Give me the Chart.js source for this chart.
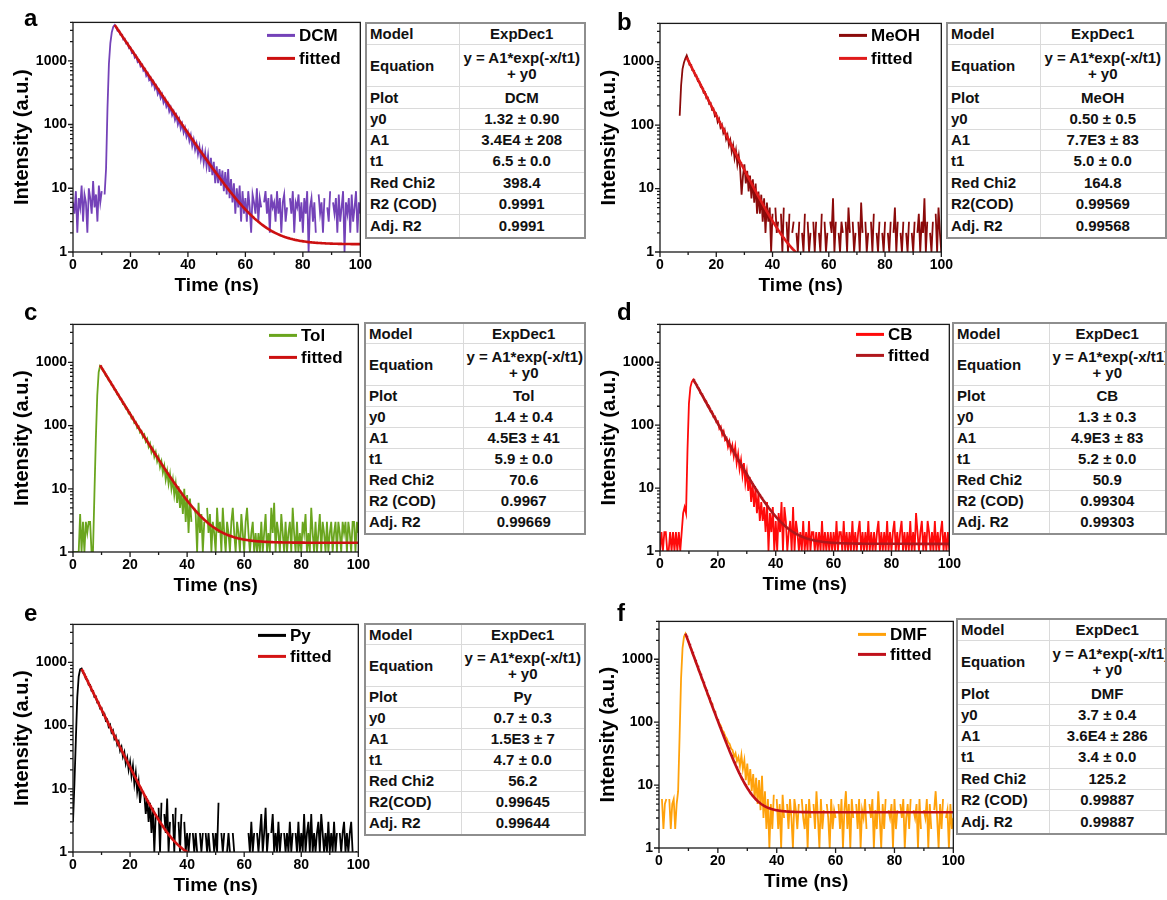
<!DOCTYPE html>
<html>
<head>
<meta charset="utf-8">
<title>Fluorescence decay fits</title>
<script src="https://cdn.jsdelivr.net/npm/chart.js@4.4.1/dist/chart.umd.min.js"></script>
<style>
  html, body { margin: 0; padding: 0; background: #fff; }
  #figure { position: relative; width: 1167px; height: 900px; overflow: hidden; }
  #figure canvas { position: absolute; }
  .tag { position: absolute; font: bold 24px "Liberation Sans", Arial, sans-serif; line-height: 24px; color: #000; }
  table.fit { position: absolute; border-collapse: collapse; table-layout: fixed; background: #fff;
              border: 2px solid #8e8e8e; font: bold 15px "Liberation Sans", Arial, sans-serif; color: #111; }
  table.fit td { border: 1px solid #dadada; padding: 0 3px; vertical-align: middle; line-height: 16px; white-space: nowrap; overflow: hidden; }
  table.fit td.v { text-align: center; }
</style>
</head>
<body>
<div id="figure"></div>
<script>
// TCSPC channels, 0.5 ns apart
const timeStep = 0.5;
const sampleNames = ['DCM', 'MeOH', 'Tol', 'CB', 'Py', 'DMF'];
const firstChannelTime = [0, 7, 0, 0, 0, 0];

// photon counts per channel (0 = empty channel)
const dcmCounts = [
  6, 4, 9, 2, 7, 5, 11, 3, 8, 6,
  2, 10, 7, 4, 13, 5, 8, 3, 11, 6,
  9, 0, 8, 20, 180, 900, 1900, 2800, 3400, 3650,
  3400, 2950, 2980, 2550, 2560, 2150, 2200, 1860, 1900, 1580,
  1620, 1330, 1390, 1120, 1190, 960, 1010, 820, 870, 700,
  740, 580, 630, 500, 540, 420, 470, 360, 400, 300,
  340, 260, 295, 220, 250, 190, 215, 160, 185, 140,
  160, 118, 138, 100, 120, 86, 102, 74, 88, 64,
  76, 55, 68, 46, 58, 40, 50, 34, 45, 29,
  40, 25, 36, 22, 33, 18, 30, 16, 26, 12,
  22, 12, 20, 11, 19, 9, 18, 8, 20, 7,
  14, 6, 12, 4, 10, 5, 11, 3, 9, 4,
  7, 3, 9, 5, 2, 8, 6, 4, 10, 3,
  7, 5, 0, 6, 9, 4, 7, 2, 8, 5,
  6, 3, 9, 4, 7, 2, 6, 8, 3, 5,
  0, 7, 4, 9, 2, 6, 5, 8, 3, 6,
  2, 7, 4, 9, 1, 5, 7, 3, 6, 2,
  0, 8, 4, 6, 2, 7, 0, 5, 3, 9,
  0, 6, 4, 7, 2, 8, 3, 5, 9, 1,
  6, 4, 7, 2, 8, 3, 5, 9, 2, 6,
  4
];
const meohCounts = [
  140, 420, 760, 960, 1120, 1250,
  1080, 890, 890, 730, 720, 600, 590, 490, 485, 400,
  400, 325, 330, 265, 270, 215, 220, 175, 180, 140,
  150, 112, 125, 92, 102, 75, 85, 60, 70, 48,
  58, 38, 48, 30, 40, 24, 33, 20, 8, 16,
  24, 12, 19, 9, 16, 7, 14, 6, 12, 4,
  9, 4, 8, 3, 7, 2, 6, 3, 5, 1,
  4, 0, 5, 2, 3, 0, 4, 1, 5, 0,
  3, 1, 4, 0, 2, 3, 0, 2, 1, 3,
  0, 2, 1, 4, 0, 3, 1, 2, 0, 3,
  1, 3, 0, 2, 1, 4, 0, 3, 1, 2,
  0, 3, 2, 7, 1, 3, 0, 2, 1, 3,
  2, 0, 3, 1, 5, 2, 0, 3, 1, 2,
  0, 3, 1, 6, 2, 0, 3, 1, 2, 0,
  3, 1, 4, 0, 2, 1, 3, 0, 2, 1,
  3, 0, 2, 1, 3, 0, 2, 5, 1, 3,
  0, 2, 1, 3, 0, 2, 1, 3, 0, 2,
  1, 3, 0, 2, 4, 1, 3, 2, 7, 1,
  3, 0, 2, 1, 3, 0, 4, 1, 5, 2,
  1
];
const tolCounts = [
  1, 1, 1, 1, 1, 4, 1, 3, 1, 3,
  2, 3, 3, 1, 1, 8, 60, 300, 700, 880,
  830, 740, 710, 615, 600, 520, 505, 440, 430, 370,
  365, 310, 305, 262, 262, 220, 222, 186, 188, 156,
  160, 130, 136, 110, 114, 92, 97, 78, 82, 66,
  72, 56, 62, 46, 52, 38, 44, 32, 38, 27,
  32, 22, 27, 18, 23, 14, 19, 12, 17, 10,
  14, 8, 12, 6, 11, 5, 9, 4, 10, 3,
  8, 2, 7, 3, 0, 5, 4, 1, 6, 2,
  4, 1, 3, 0, 5, 2, 4, 1, 3, 2,
  1, 5, 2, 3, 1, 5, 2, 1, 3, 2,
  1, 3, 5, 2, 1, 3, 2, 1, 4, 2,
  1, 3, 5, 2, 1, 2, 3, 1, 2, 1,
  2, 1, 3, 1, 2, 4, 1, 2, 1, 5,
  2, 6, 1, 3, 2, 1, 4, 2, 1, 3,
  1, 2, 3, 1, 5, 2, 1, 3, 1, 2,
  1, 3, 2, 4, 1, 2, 1, 5, 2, 1,
  3, 1, 2, 4, 1, 3, 2, 1, 3, 1,
  2, 3, 1, 2, 3, 1, 3, 2, 1, 3,
  2, 3, 1, 3, 2, 1, 3, 3, 1, 3,
  2
];
const cbCounts = [
  1, 2, 1, 2, 2, 1, 1, 2, 1, 2,
  1, 2, 1, 2, 1, 2, 4, 5, 4, 40,
  220, 400, 490, 530, 470, 455, 395, 385, 320, 310,
  285, 240, 240, 198, 200, 165, 165, 135, 138, 112,
  115, 88, 95, 70, 80, 58, 62, 45, 55, 38,
  48, 32, 45, 25, 35, 20, 28, 16, 25, 12,
  18, 9, 15, 6, 12, 5, 10, 4, 8, 3,
  6, 3, 5, 2, 6, 1, 4, 2, 5, 1,
  3, 1, 4, 2, 6, 1, 5, 3, 1, 2,
  3, 1, 5, 1, 3, 2, 1, 2, 1, 3,
  1, 2, 1, 3, 1, 2, 2, 1, 2, 1,
  2, 1, 3, 1, 2, 1, 2, 1, 2, 1,
  2, 1, 3, 1, 2, 2, 1, 3, 1, 2,
  1, 2, 1, 3, 1, 2, 1, 2, 3, 1,
  2, 1, 2, 1, 3, 1, 2, 1, 2, 1,
  2, 3, 1, 2, 1, 2, 1, 3, 1, 2,
  1, 2, 3, 1, 2, 1, 2, 3, 1, 2,
  1, 2, 1, 3, 1, 2, 1, 4, 2, 1,
  2, 3, 1, 2, 1, 3, 2, 1, 2, 1,
  3, 1, 2, 1, 2, 3, 1, 2, 1, 2,
  1
];
const pyCounts = [
  3, 12, 60, 280, 600, 780, 800, 690, 660, 550,
  540, 440, 440, 355, 355, 285, 290, 232, 232, 186,
  190, 150, 155, 120, 125, 96, 103, 78, 84, 62,
  68, 50, 56, 40, 46, 32, 38, 25, 31, 20,
  27, 16, 23, 12, 18, 9, 13, 6, 10, 0,
  8, 4, 7, 3, 6, 2, 5, 1, 4, 0,
  5, 1, 6, 0, 4, 2, 7, 1, 3, 0,
  4, 1, 5, 0, 3, 1, 4, 0, 3, 1,
  2, 1, 2, 0, 2, 1, 2, 1, 0, 2,
  1, 2, 0, 2, 1, 2, 1, 0, 2, 1,
  2, 1, 6, 0, 2, 1, 2, 0, 1, 2,
  1, 0, 2, 1, 0, 1, 0, 1, 0, 1,
  0, 1, 0, 2, 1, 3, 1, 2, 0, 2,
  1, 2, 4, 1, 2, 5, 1, 2, 0, 2,
  4, 1, 2, 1, 3, 1, 2, 0, 2, 1,
  2, 1, 3, 1, 2, 0, 2, 1, 3, 1,
  2, 1, 4, 1, 2, 3, 1, 4, 1, 2,
  1, 2, 3, 1, 4, 2, 1, 2, 1, 3,
  1, 2, 1, 3, 1, 2, 0, 2, 1, 2,
  3, 1, 2, 1, 2, 3, 1, 0, 1, 1,
  0
];
const dmfCounts = [
  3, 0, 6, 2, 5, 6, 0, 6, 2, 5,
  6, 2, 5, 8, 60, 500, 1500, 2300, 2550, 2150,
  1960, 1580, 1470, 1170, 1100, 870, 820, 650, 620, 480,
  460, 360, 345, 270, 262, 205, 200, 158, 150, 118,
  110, 95, 88, 74, 70, 60, 55, 48, 45, 38,
  36, 28, 32, 24, 28, 20, 30, 18, 25, 12,
  22, 10, 18, 8, 15, 6, 13, 5, 12, 4,
  14, 3, 8, 2, 6, 1, 5, 2, 7, 0,
  6, 2, 5, 1, 7, 3, 0, 5, 2, 6,
  3, 1, 6, 4, 2, 5, 0, 6, 3, 2,
  5, 1, 6, 3, 0, 5, 2, 8, 3, 1,
  6, 2, 4, 0, 5, 3, 1, 6, 2, 4,
  3, 0, 5, 2, 6, 1, 4, 8, 2, 5,
  1, 6, 3, 0, 5, 2, 6, 1, 4, 3,
  6, 2, 0, 5, 3, 6, 1, 4, 2, 8,
  3, 1, 5, 2, 6, 0, 4, 3, 5, 1,
  6, 2, 4, 0, 5, 3, 6, 1, 3, 5,
  2, 6, 0, 4, 3, 5, 1, 6, 2, 0,
  4, 3, 6, 1, 5, 2, 0, 4, 8, 3,
  1, 5, 2, 6, 0, 3, 4, 1, 5, 2,
  3
];
const sampleCounts = [dcmCounts, meohCounts, tolCounts, cbCounts, pyCounts, dmfCounts];

// ExpDec1 fit results: y = A1*exp(-x/t1) + y0, drawn from the peak channel on
const fitStartTime = [14.5, 9.5, 9.5, 11.5, 3, 9];
const fitY0 = [1.32, 0.50, 1.4, 1.3, 0.7, 3.7];
const fitA1 = [3.4e4, 7.7e3, 4.5e3, 4.9e3, 1.5e3, 3.6e4];
const fitT1 = [6.5, 5.0, 5.9, 5.2, 4.7, 3.4];

// fit report tables
const tableY0 = ['1.32 ± 0.90', '0.50 ± 0.5', '1.4 ± 0.4', '1.3 ± 0.3', '0.7 ± 0.3', '3.7 ± 0.4'];
const tableA1 = ['3.4E4 ± 208', '7.7E3 ± 83', '4.5E3 ± 41', '4.9E3 ± 83', '1.5E3 ± 7', '3.6E4 ± 286'];
const tableT1 = ['6.5 ± 0.0', '5.0 ± 0.0', '5.9 ± 0.0', '5.2 ± 0.0', '4.7 ± 0.0', '3.4 ± 0.0'];
const tableRedChi2 = ['398.4', '164.8', '70.6', '50.9', '56.2', '125.2'];
const tableR2Label = ['R2 (COD)', 'R2(COD)', 'R2 (COD)', 'R2 (COD)', 'R2(COD)', 'R2 (COD)'];
const tableR2 = ['0.9991', '0.99569', '0.9967', '0.99304', '0.99645', '0.99887'];
const tableAdjR2 = ['0.9991', '0.99568', '0.99669', '0.99303', '0.99644', '0.99887'];

// axis ticks
const xMajorTicks = [0, 20, 40, 60, 80, 100];
const xMinorTicks = [10, 30, 50, 70, 90];
const yMajorTicks = [1, 10, 100, 1000];
const yMax = 4000;
const yMinorTicks = [];
yMajorTicks.forEach(d => [2, 3, 4, 5, 6, 7, 8, 9].forEach(m => {
  if (d * m <= yMax) yMinorTicks.push(d * m);
}));

// panel geometry: plot = [left, top, right, bottom], table = [left, top, width, height]
const panels = [
  { tag: 'a', tagPos: [24, 6],    plot: [73, 20, 361, 252],   table: [365, 22, 221, 215], keyWidth: 93,
    dataColor: '#7442b8', fitColor: '#cc1010', legend: [194, 13, 23] },
  { tag: 'b', tagPos: [617, 10],  plot: [660, 21, 942, 252],  table: [946, 22, 221, 215], keyWidth: 93,
    dataColor: '#8b0a0a', fitColor: '#e01b1b', legend: [179, 12, 23] },
  { tag: 'c', tagPos: [24, 300],  plot: [73, 322, 359, 552],  table: [364, 322, 222, 211], keyWidth: 98,
    dataColor: '#6aa51e', fitColor: '#cc1010', legend: [196, 11, 22] },
  { tag: 'd', tagPos: [617, 300], plot: [660, 322, 950, 551], table: [952, 322, 215, 211], keyWidth: 96,
    dataColor: '#ff0a0a', fitColor: '#b0171c', legend: [196, 10, 21] },
  { tag: 'e', tagPos: [24, 601],  plot: [73, 622, 359, 852],  table: [364, 623, 222, 211], keyWidth: 96,
    dataColor: '#000000', fitColor: '#d41414', legend: [185, 11, 21] },
  { tag: 'f', tagPos: [617, 601], plot: [659, 619, 954, 848], table: [956, 618, 211, 215], keyWidth: 92,
    dataColor: '#ffa10a', fitColor: '#c0101a', legend: [199, 13, 20] }
];

const FONT = '"Liberation Sans", Arial, sans-serif';
const Y_AXIS_W = 70;
const X_AXIS_H = 50;
const PAD_TOP = 12;
const PAD_RIGHT = 16;

const figure = document.getElementById('figure');

function channelPoints(start, counts) {
  return counts.map((c, i) => ({ x: start + i * timeStep, y: c }));
}

function fitPoints(i) {
  const pts = [];
  for (let t = fitStartTime[i]; t <= 100.001; t += 0.25) {
    pts.push({ x: t, y: fitA1[i] * Math.exp(-t / fitT1[i]) + fitY0[i] });
  }
  return pts;
}

// frame, outward tick marks and the in-plot legend
function framePlugin(p) {
  return {
    id: 'frameAndLegend',
    afterDraw(chart) {
      const { ctx, chartArea: a } = chart;
      const xs = chart.scales.x, ys = chart.scales.y;
      ctx.save();
      ctx.strokeStyle = '#1a1a1a';
      ctx.lineWidth = 1.3;
      ctx.strokeRect(a.left, a.top, a.right - a.left, a.bottom - a.top);
      ctx.beginPath();
      yMajorTicks.forEach(v => { const py = ys.getPixelForValue(v); ctx.moveTo(a.left - 5, py); ctx.lineTo(a.left, py); });
      yMinorTicks.forEach(v => { const py = ys.getPixelForValue(v); ctx.moveTo(a.left - 3, py); ctx.lineTo(a.left, py); });
      xMajorTicks.forEach(v => { const px = xs.getPixelForValue(v); ctx.moveTo(px, a.bottom); ctx.lineTo(px, a.bottom + 5); });
      xMinorTicks.forEach(v => { const px = xs.getPixelForValue(v); ctx.moveTo(px, a.bottom); ctx.lineTo(px, a.bottom + 3); });
      ctx.stroke();

      const [lx, ly, gap] = p.legend;
      ctx.font = 'bold 17px ' + FONT;
      ctx.textBaseline = 'middle';
      chart.data.datasets.forEach((ds, k) => {
        const x0 = a.left + lx;
        const y0 = a.top + ly + k * gap;
        ctx.strokeStyle = ds.borderColor;
        ctx.lineWidth = 3;
        ctx.beginPath();
        ctx.moveTo(x0, y0);
        ctx.lineTo(x0 + 28, y0);
        ctx.stroke();
        ctx.fillStyle = '#000';
        ctx.fillText(ds.label, x0 + 32, y0 + 1);
      });
      ctx.restore();
    }
  };
}

function buildTable(p, i) {
  const [left, top, width, height] = p.table;
  const table = document.createElement('table');
  table.className = 'fit';
  table.style.left = left + 'px';
  table.style.top = top + 'px';
  table.style.width = width + 'px';
  table.style.height = height + 'px';

  const colgroup = document.createElement('colgroup');
  const c1 = document.createElement('col');
  c1.style.width = p.keyWidth + 'px';
  colgroup.appendChild(c1);
  colgroup.appendChild(document.createElement('col'));
  table.appendChild(colgroup);

  const rows = [
    ['Model', ['ExpDec1']],
    ['Equation', ['y = A1*exp(-x/t1)', '+ y0']],
    ['Plot', [sampleNames[i]]],
    ['y0', [tableY0[i]]],
    ['A1', [tableA1[i]]],
    ['t1', [tableT1[i]]],
    ['Red Chi2', [tableRedChi2[i]]],
    [tableR2Label[i], [tableR2[i]]],
    ['Adj. R2', [tableAdjR2[i]]]
  ];
  const unit = (height - 2) / 10;
  rows.forEach((r, k) => {
    const tr = document.createElement('tr');
    let h = unit;
    if (k === 1) h = unit * 2;
    if (k === rows.length - 1) h = unit + 2;
    tr.style.height = h + 'px';
    const td1 = document.createElement('td');
    td1.textContent = r[0];
    const td2 = document.createElement('td');
    td2.className = 'v';
    r[1].forEach((line, n) => {
      if (n > 0) td2.appendChild(document.createElement('br'));
      td2.appendChild(document.createTextNode(line));
    });
    tr.appendChild(td1);
    tr.appendChild(td2);
    table.appendChild(tr);
  });
  figure.appendChild(table);
}

panels.forEach((p, i) => {
  const [L, T, R, B] = p.plot;
  const left = L - Y_AXIS_W;
  const top = T - PAD_TOP;
  const w = R - left + PAD_RIGHT;
  const h = B - top + X_AXIS_H;

  const canvas = document.createElement('canvas');
  canvas.width = w;
  canvas.height = h;
  canvas.style.left = left + 'px';
  canvas.style.top = top + 'px';
  canvas.style.width = w + 'px';
  canvas.style.height = h + 'px';
  figure.appendChild(canvas);

  new Chart(canvas, {
    type: 'line',
    data: {
      datasets: [
        {
          label: sampleNames[i],
          data: channelPoints(firstChannelTime[i], sampleCounts[i]),
          borderColor: p.dataColor,
          borderWidth: 1.8,
          pointRadius: 0,
          tension: 0,
          order: 1
        },
        {
          label: 'fitted',
          data: fitPoints(i),
          borderColor: p.fitColor,
          borderWidth: 2.6,
          pointRadius: 0,
          tension: 0,
          order: 0
        }
      ]
    },
    options: {
      responsive: false,
      animation: false,
      devicePixelRatio: 1,
      events: [],
      layout: { padding: { top: PAD_TOP, right: PAD_RIGHT, left: 0, bottom: 0 } },
      plugins: {
        legend: { display: false },
        tooltip: { enabled: false }
      },
      scales: {
        x: {
          type: 'linear',
          min: 0,
          max: 100,
          grid: { display: false, drawTicks: false },
          border: { display: false },
          afterBuildTicks: s => { s.ticks = xMajorTicks.map(v => ({ value: v })); },
          afterFit: s => { s.height = X_AXIS_H; },
          ticks: {
            autoSkip: false,
            maxRotation: 0,
            padding: 5,
            color: '#000',
            font: { family: FONT, size: 14, weight: 'bold' },
            callback: v => String(v)
          },
          title: {
            display: true,
            text: 'Time (ns)',
            color: '#000',
            font: { family: FONT, size: 19, weight: 'bold' },
            padding: { top: 0, bottom: 5 }
          }
        },
        y: {
          type: 'logarithmic',
          min: 1,
          max: yMax,
          grid: { display: false, drawTicks: false },
          border: { display: false },
          afterBuildTicks: s => { s.ticks = yMajorTicks.map(v => ({ value: v })); },
          afterFit: s => { s.width = Y_AXIS_W; },
          ticks: {
            autoSkip: false,
            padding: 6,
            color: '#000',
            font: { family: FONT, size: 14, weight: 'bold' },
            callback: v => String(v)
          },
          title: {
            display: true,
            text: 'Intensity (a.u.)',
            color: '#000',
            font: { family: FONT, size: 20, weight: 'bold' },
            padding: { top: 7, bottom: 0 }
          }
        }
      }
    },
    plugins: [framePlugin(p)]
  });

  buildTable(p, i);

  const tag = document.createElement('div');
  tag.className = 'tag';
  tag.textContent = p.tag;
  tag.style.left = p.tagPos[0] + 'px';
  tag.style.top = p.tagPos[1] + 'px';
  figure.appendChild(tag);
});
</script>
</body>
</html>
